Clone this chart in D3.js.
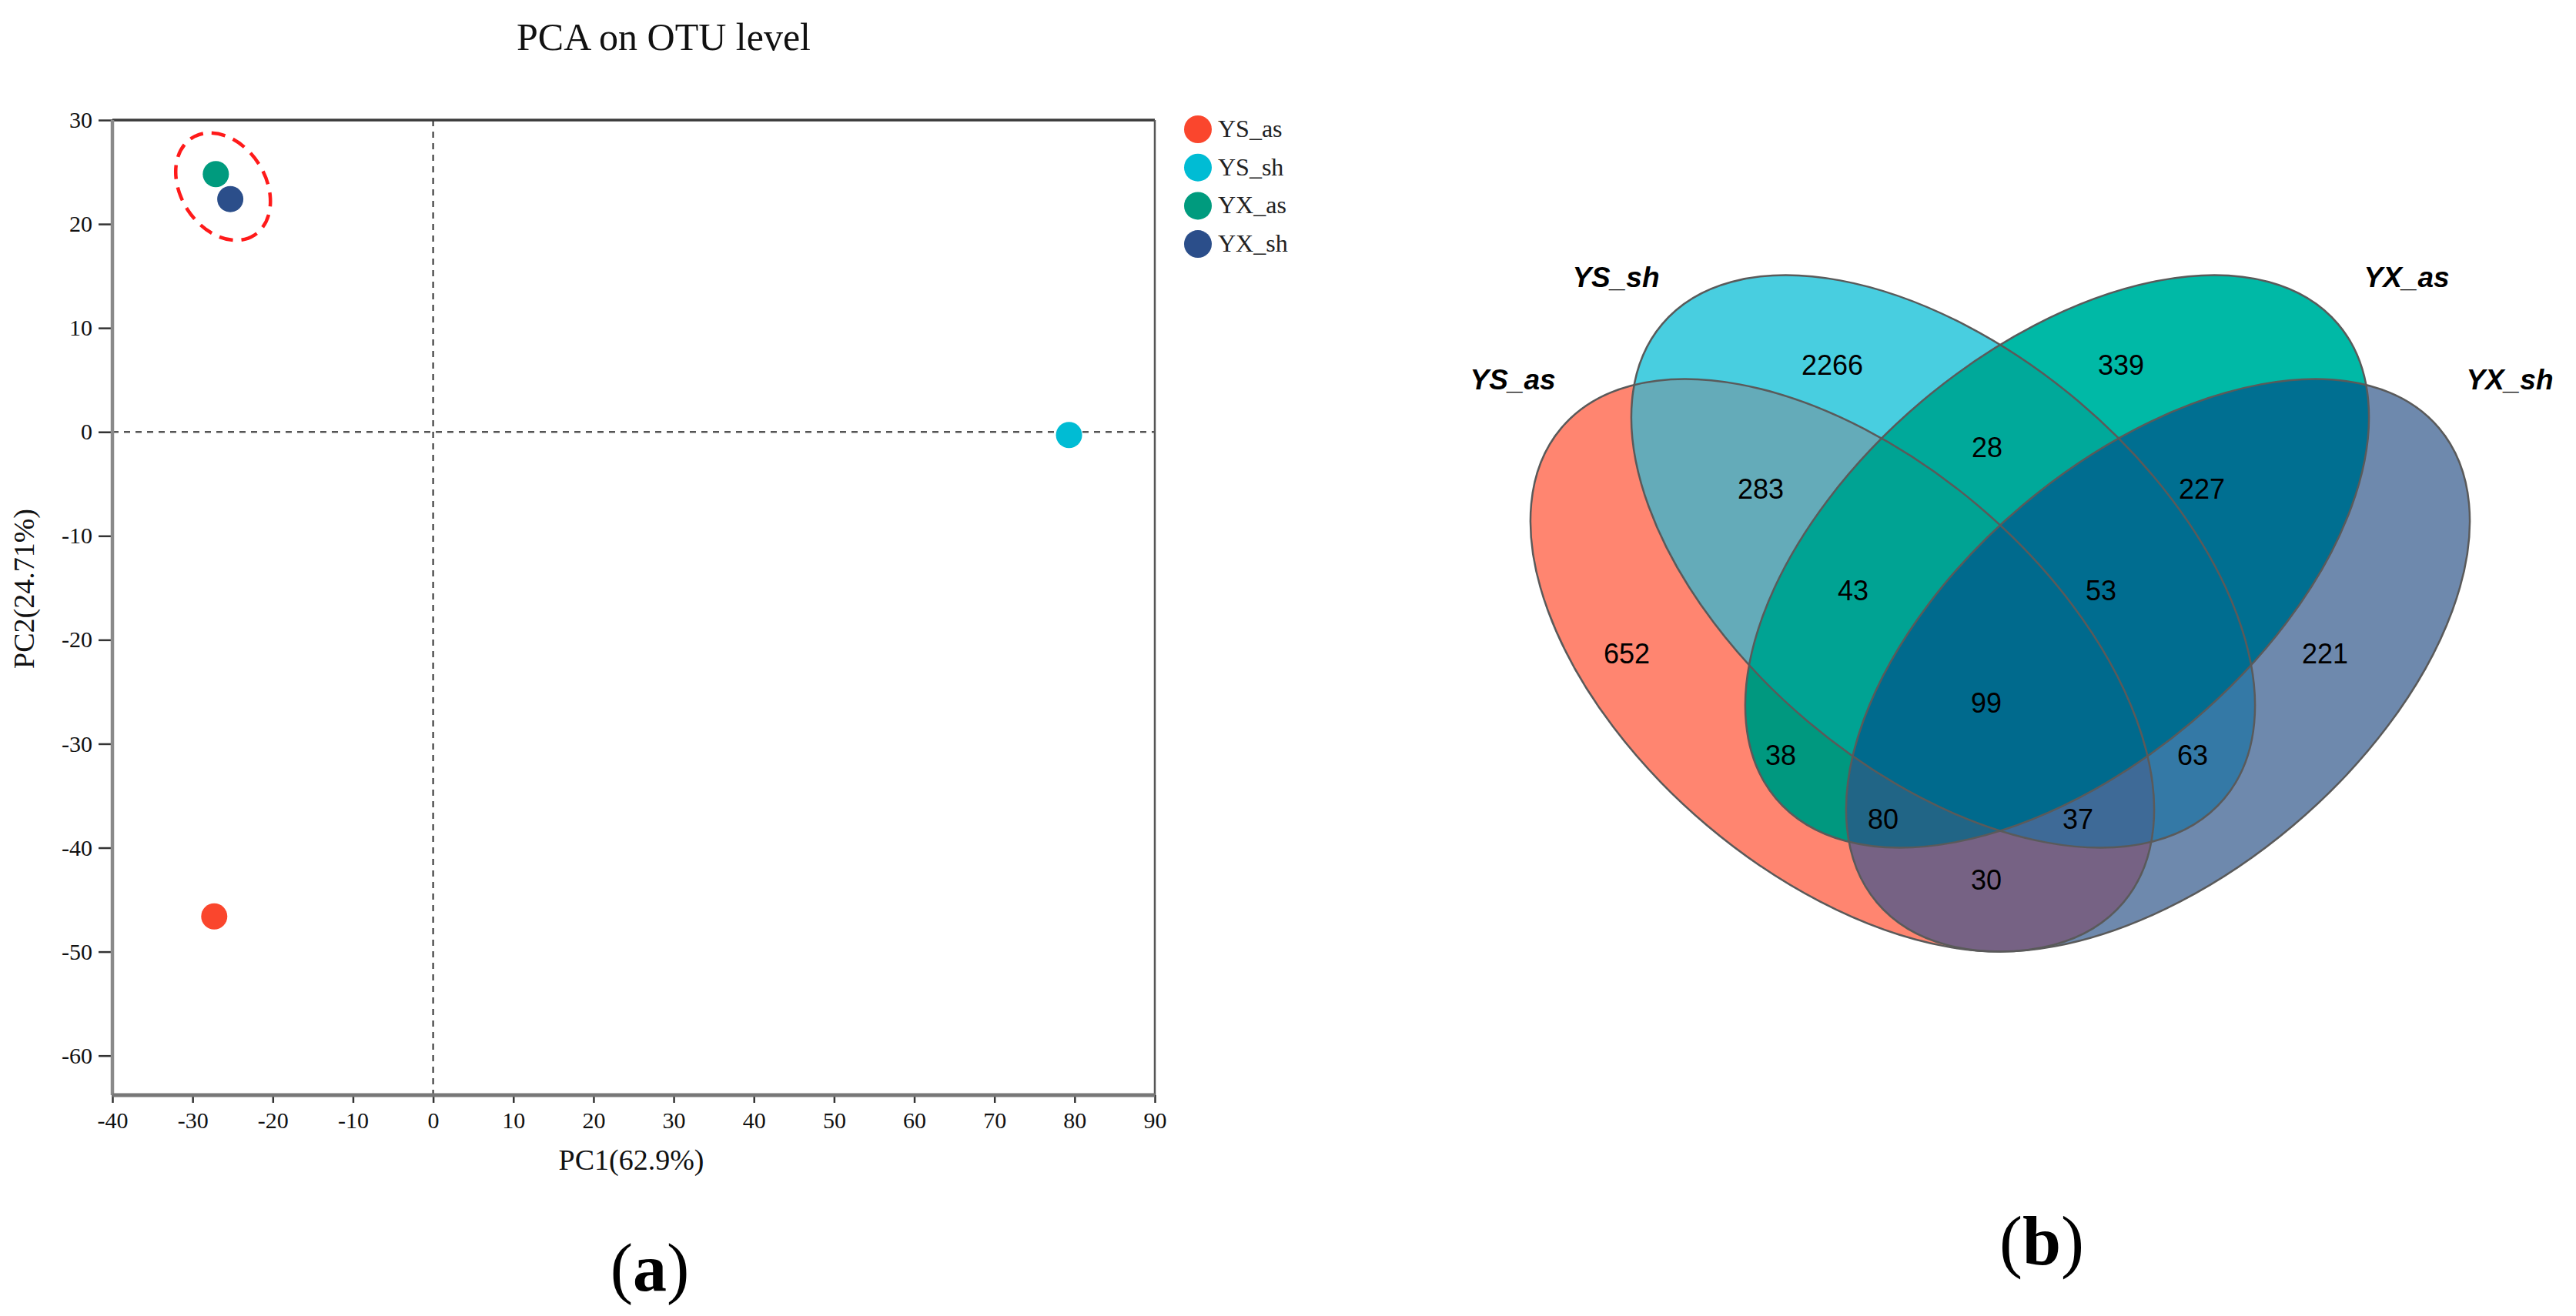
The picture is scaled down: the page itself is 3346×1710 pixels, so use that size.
<!DOCTYPE html>
<html><head><meta charset="utf-8">
<script src="https://cdn.jsdelivr.net/npm/d3@7"></script>
<style>html,body{margin:0;padding:0;background:#fff;} svg{display:block;}</style>
</head><body>
<svg id="chart" width="3346" height="1710"></svg>
<script>
// ================= DATA =================
// (a) PCA
const pcaGroups = ["YS_as", "YS_sh", "YX_as", "YX_sh"];
const pc1Values = [-27.3, 79.3, -27.1, -25.3];
const pc2Values = [-46.6, -0.3, 24.8, 22.4];
const pcaColors = ["#FA462D", "#00BCD4", "#009B7E", "#2B4E8A"];
const xTickValues = [-40, -30, -20, -10, 0, 10, 20, 30, 40, 50, 60, 70, 80, 90];
const yTickValues = [30, 20, 10, 0, -10, -20, -30, -40, -50, -60];
const pcaTitle = "PCA on OTU level";
const xAxisLabel = "PC1(62.9%)";
const yAxisLabel = "PC2(24.71%)";
const clusterCenter = [-26.2, 23.6];

// (b) Venn
const vennSets = ["YS_as", "YS_sh", "YX_as", "YX_sh"];
const vennRegions = ["A", "B", "C", "D", "AB", "BC", "CD", "AC", "BD", "AD", "ABC", "BCD", "ABD", "ACD", "ABCD"];
const vennCounts = [652, 2266, 339, 221, 283, 28, 227, 38, 63, 30, 43, 53, 37, 80, 99];
const vennRegionColors = ["#FF8570", "#48CEE0", "#00B9A6", "#6E89AD", "#64ABB9", "#00A99A", "#006F91",
  "#00987F", "#3479A6", "#766284", "#00A393", "#006D90", "#3E6A97", "#216586", "#006A8D"];

// ================= LAYOUT =================
const svg = d3.select("#chart");
svg.append("rect").attr("width", 3346).attr("height", 1710).attr("fill", "#fff");
const serif = "'Liberation Serif','Times New Roman',serif";
const sans = "'Liberation Sans',Arial,sans-serif";
const fmt = d => String(d);

// ---------- PCA panel ----------
const x = d3.scaleLinear().domain([-40, 90]).range([146, 1500]);
const y = d3.scaleLinear().domain([-63.8, 30]).range([1423, 156]);
const pca = svg.append("g");

pca.append("text").attr("x", 862).attr("y", 65).attr("text-anchor", "middle")
  .attr("font-family", serif).attr("font-size", 50).attr("fill", "#111").text(pcaTitle);

// reference dashed lines
pca.append("line").attr("x1", x(0)).attr("x2", x(0)).attr("y1", y.range()[1]).attr("y2", y.range()[0])
  .attr("stroke", "#555").attr("stroke-width", 2.5).attr("stroke-dasharray", "8 7");
pca.append("line").attr("x1", x.range()[0]).attr("x2", x.range()[1]).attr("y1", y(0)).attr("y2", y(0))
  .attr("stroke", "#555").attr("stroke-width", 2.5).attr("stroke-dasharray", "8 7");

// axes
const yAxis = d3.axisLeft(y).tickValues(yTickValues).tickFormat(fmt).tickSize(18).tickPadding(8).tickSizeOuter(0);
const xAxis = d3.axisBottom(x).tickValues(xTickValues).tickFormat(fmt).tickSize(10).tickPadding(12).tickSizeOuter(0);
const gy = pca.append("g").attr("transform", `translate(${x.range()[0]},0)`).call(yAxis);
const gx = pca.append("g").attr("transform", `translate(0,${y.range()[0]})`).call(xAxis);
[gx, gy].forEach(g => {
  g.select(".domain").remove();
  g.selectAll(".tick line").attr("stroke", "#333").attr("stroke-width", 2.5);
  g.selectAll(".tick text").attr("font-family", serif).attr("font-size", 30).attr("fill", "#111");
});

// frame
const [x0, x1] = x.range(), [yb, yt] = y.range();
pca.append("line").attr("x1", x0).attr("x2", x1).attr("y1", yt).attr("y2", yt).attr("stroke", "#3a3a3a").attr("stroke-width", 3.5);
pca.append("line").attr("x1", x1).attr("x2", x1).attr("y1", yt).attr("y2", yb).attr("stroke", "#555").attr("stroke-width", 2.5);
pca.append("line").attr("x1", x0).attr("x2", x0).attr("y1", yt).attr("y2", yb).attr("stroke", "#8a8a8a").attr("stroke-width", 4.5);
pca.append("line").attr("x1", x0).attr("x2", x1).attr("y1", yb).attr("y2", yb).attr("stroke", "#777").attr("stroke-width", 5);

// axis labels
pca.append("text").attr("x", 820).attr("y", 1520).attr("text-anchor", "middle")
  .attr("font-family", serif).attr("font-size", 38).attr("fill", "#111").text(xAxisLabel);
pca.append("text").attr("transform", "translate(44,765) rotate(-90)").attr("text-anchor", "middle")
  .attr("font-family", serif).attr("font-size", 38).attr("fill", "#111").text(yAxisLabel);

// cluster ellipse (dashed red)
const ccx = x(clusterCenter[0]), ccy = y(clusterCenter[1]);
pca.append("ellipse").attr("cx", ccx).attr("cy", ccy).attr("rx", 75).attr("ry", 55)
  .attr("transform", `rotate(57.3,${ccx},${ccy})`)
  .attr("fill", "none").attr("stroke", "#FF1A1A").attr("stroke-width", 4.5).attr("stroke-dasharray", "18 11");

// points
pca.selectAll("circle.pt").data(pcaGroups).join("circle").attr("class", "pt")
  .attr("cx", (d, i) => x(pc1Values[i])).attr("cy", (d, i) => y(pc2Values[i]))
  .attr("r", 17).attr("fill", (d, i) => pcaColors[i]);

// legend
const leg = pca.append("g").attr("transform", "translate(1556,168)");
pcaGroups.forEach((g, i) => {
  leg.append("circle").attr("cx", 0).attr("cy", i * 49.7).attr("r", 18).attr("fill", pcaColors[i]);
  leg.append("text").attr("x", 26).attr("y", i * 49.7 + 10).attr("font-family", serif)
    .attr("font-size", 32).attr("fill", "#222").text(g);
});

// (a)
const ta = svg.append("text").attr("x", 844).attr("y", 1677).attr("text-anchor", "middle")
  .attr("font-family", serif).attr("font-size", 88).attr("fill", "#000");
ta.append("tspan").text("(");
ta.append("tspan").attr("font-weight", "bold").text("a");
ta.append("tspan").text(")");

// ---------- Venn panel ----------
const vcx = 2598;
const ellA = 477.8, ellB = 272.3, ellRot = 40.2;
const ellipses = [
  { dx: -205, cy: 864.5, rot: ellRot },
  { dx: -74, cy: 729.5, rot: ellRot },
  { dx: 74, cy: 729.5, rot: -ellRot },
  { dx: 205, cy: 864.5, rot: -ellRot }
];
const regionLabelPos = {
  A: [-485, 849], B: [-218, 474], C: [157, 474], D: [422, 849],
  AB: [-311, 635], BC: [-17, 581], CD: [262, 635], AC: [-285, 981], BD: [250, 981], AD: [-18, 1143],
  ABC: [-191, 767], BCD: [131, 767], ABD: [101, 1064], ACD: [-152, 1064], ABCD: [-18, 913]
};
const setLabelPos = [[-633, 493], [-499, 360], [528, 360], [662, 493]];
const letters = ["A", "B", "C", "D"];

const defs = svg.append("defs");
const ellAttrs = (sel, e) => sel.attr("cx", vcx + e.dx).attr("cy", e.cy).attr("rx", ellA).attr("ry", ellB)
  .attr("transform", `rotate(${e.rot},${vcx + e.dx},${e.cy})`);
ellipses.forEach((e, i) => ellAttrs(defs.append("clipPath").attr("id", "vc" + i).append("ellipse"), e));

const venn = svg.append("g");
const box = { x: 1800, y: 250, w: 1546, h: 1150 };
vennRegions.forEach((r, k) => {
  const inc = letters.map((l, i) => r.includes(l) ? i : -1).filter(i => i >= 0);
  const exc = letters.map((l, i) => r.includes(l) ? -1 : i).filter(i => i >= 0);
  const mask = defs.append("mask").attr("id", "vm" + k).attr("maskUnits", "userSpaceOnUse")
    .attr("x", box.x).attr("y", box.y).attr("width", box.w).attr("height", box.h);
  mask.append("rect").attr("x", box.x).attr("y", box.y).attr("width", box.w).attr("height", box.h).attr("fill", "#fff");
  exc.forEach(i => ellAttrs(mask.append("ellipse"), ellipses[i]).attr("fill", "#000"));
  let g = venn.append("g").attr("mask", `url(#vm${k})`);
  inc.forEach(i => { g = g.append("g").attr("clip-path", `url(#vc${i})`); });
  g.append("rect").attr("x", box.x).attr("y", box.y).attr("width", box.w).attr("height", box.h)
    .attr("fill", vennRegionColors[k]);
});
ellipses.forEach(e => ellAttrs(venn.append("ellipse"), e)
  .attr("fill", "none").attr("stroke", "#5a5a5a").attr("stroke-width", 2.5));

vennRegions.forEach((r, k) => {
  const p = regionLabelPos[r];
  venn.append("text").attr("x", vcx + p[0]).attr("y", p[1]).attr("dy", "0.36em")
    .attr("text-anchor", "middle").attr("font-family", sans).attr("font-size", 36).attr("fill", "#000")
    .text(vennCounts[k]);
});
vennSets.forEach((s, i) => {
  venn.append("text").attr("x", vcx + setLabelPos[i][0]).attr("y", setLabelPos[i][1]).attr("dy", "0.36em")
    .attr("text-anchor", "middle").attr("font-family", sans).attr("font-size", 37)
    .attr("font-weight", "bold").attr("font-style", "italic").attr("fill", "#000").text(s);
});

// (b)
const tb = svg.append("text").attr("x", 2652).attr("y", 1643).attr("text-anchor", "middle")
  .attr("font-family", serif).attr("font-size", 90).attr("fill", "#000");
tb.append("tspan").text("(");
tb.append("tspan").attr("font-weight", "bold").text("b");
tb.append("tspan").text(")");
</script>
</body></html>
